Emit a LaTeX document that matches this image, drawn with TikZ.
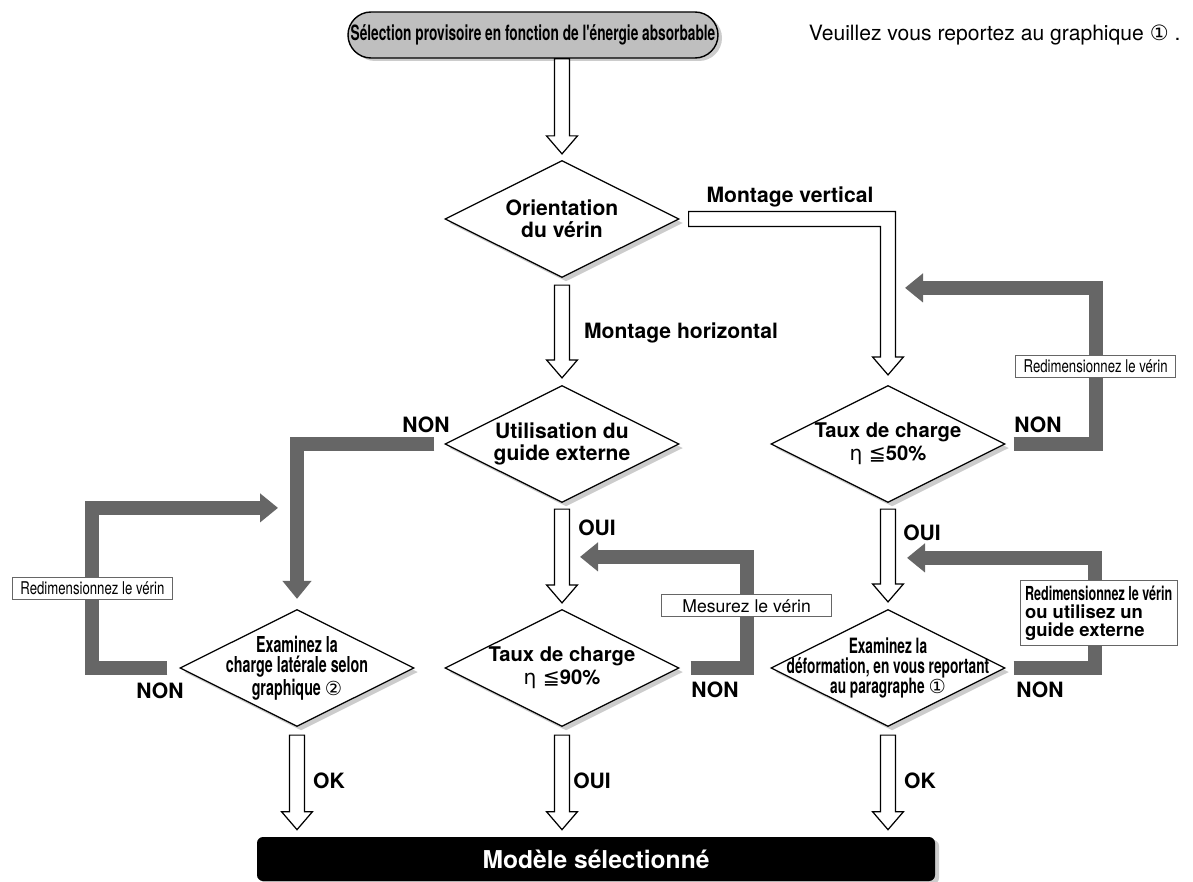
\documentclass[tikz,border=0pt]{standalone}
\usepackage{fontspec}
\setmainfont{TeX Gyre Heros}
\newfontfamily\condfont[FakeStretch=0.65]{TeX Gyre Heros}
\newfontfamily\semicondfont[FakeStretch=0.75]{TeX Gyre Heros}
\newfontfamily\symfont{DejaVu Sans}
\usepackage{tikz}
\usetikzlibrary{positioning, shapes.geometric, shadows, arrows.meta, calc}

\definecolor{loopgray}{HTML}{666666}
\definecolor{pillgray}{HTML}{BFBFBF}

\newcommand{\shaftw}{0.15cm}
\newcommand{\headw}{0.31cm}
\newcommand{\headl}{0.36cm}
% hollow arrow straight down, from (#1) to the tip (#2)
\newcommand{\hollowdown}[2]{%
  \draw[hollowarrow] let \p1=(#1), \p2=(#2) in
    (\x1-\shaftw,\y1) -- (\x1+\shaftw,\y1) -- (\x1+\shaftw,\y2+\headl)
    -- (\x1+\headw,\y2+\headl) -- (\x1,\y2) -- (\x1-\headw,\y2+\headl)
    -- (\x1-\shaftw,\y2+\headl) -- cycle;}
% hollow arrow going right from (#1), then down to the tip (#2)
\newcommand{\hollowturn}[2]{%
  \draw[hollowarrow] let \p1=(#1), \p2=(#2) in
    (\x1,\y1+\shaftw) -- (\x2+\shaftw,\y1+\shaftw) -- (\x2+\shaftw,\y2+\headl)
    -- (\x2+\headw,\y2+\headl) -- (\x2,\y2) -- (\x2-\headw,\y2+\headl)
    -- (\x2-\shaftw,\y2+\headl) -- (\x2-\shaftw,\y1-\shaftw) -- (\x1,\y1-\shaftw) -- cycle;}

\begin{document}
\begin{tikzpicture}[node distance=4.5cm,on grid,
    decision/.style={diamond, draw, line width=0.7pt, fill=white, aspect=2,
      minimum width=4.68cm, minimum height=2.34cm, inner sep=0pt,
      drop shadow={shadow xshift=0.08cm, shadow yshift=-0.08cm, fill=black!20, opacity=1}},
    dtext/.style={align=center, inner sep=0pt, font=\fontsize{12}{12.5}\selectfont\bfseries},
    dnarrow/.style={align=center, inner sep=0pt, font=\condfont\bfseries\fontsize{12.5}{11.5}\selectfont},
    pillbox/.style={rectangle, rounded corners=0.46cm, draw, line width=0.8pt, fill=pillgray,
      minimum width=7.4cm, minimum height=0.92cm, inner sep=1pt,
      font=\condfont\bfseries\fontsize{12}{14}\selectfont,
      drop shadow={shadow xshift=0.08cm, shadow yshift=-0.06cm, fill=black!20, opacity=1}},
    endbox/.style={rectangle, rounded corners=0.12cm, fill=black, text=white,
      minimum width=13.56cm, minimum height=0.88cm,
      font=\fontsize{14}{16}\selectfont\bfseries,
      drop shadow={shadow xshift=0.08cm, shadow yshift=-0.06cm, fill=black!20, opacity=1}},
    lbl/.style={font=\fontsize{12}{14}\selectfont\bfseries},
    note/.style={font=\fontsize{12}{14}\selectfont},
    redimbox/.style={draw, fill=white, line width=0.5pt, inner xsep=0.16cm, inner ysep=0pt,
      minimum height=0.44cm, font=\semicondfont\fontsize{10}{12}\selectfont},
    plainbox/.style={draw, fill=white, line width=0.5pt, inner ysep=0pt,
      minimum width=3.4cm, minimum height=0.44cm, font=\fontsize{10}{12}\selectfont},
    guidebox/.style={draw, fill=white, line width=0.5pt, inner sep=0.1cm, align=left,
      font=\fontsize{10.5}{10.2}\selectfont\bfseries},
    hollowarrow/.style={draw, line width=0.7pt, fill=white, line join=miter},
    feedback/.style={draw=loopgray, line width=0.28cm, line join=miter,
      -{Triangle[width=0.56cm,length=0.36cm]}}]

  \useasboundingbox (0,0) rectangle (23.86,-17.64);

  % decisions
  \node[decision] (orient)          at (11.24,-4.38) {};
  \node[decision] (util)   [below=of orient]         {};
  \node[decision] (t90)    [below=4.48cm of util]    {};
  \node[decision] (charge) [left=5.3cm of t90]       {};
  \node[decision] (t50)    [right=6.52cm of util]    {};
  \node[decision] (deform) [below=4.48cm of t50]     {};

  \node[dtext]   (orienttxt) at (orient) {Orientation\\du vérin};
  \node[dtext]   (utiltxt)   at (util)   {Utilisation du\\guide externe};
  \node[dtext, font=\fontsize{11.5}{13}\selectfont\bfseries] (t90txt) at (t90)
    {Taux de charge\\{\symfont\mdseries η ≦}90\%};
  \node[dtext, font=\fontsize{11.5}{13}\selectfont\bfseries] (t50txt) at (t50)
    {Taux de charge\\{\symfont\mdseries η ≦}50\%};
  \node[dnarrow] (chargetxt) at (charge)
    {Examinez la\\charge latérale selon\\graphique {\symfont\mdseries\fontsize{11}{11}\selectfont ②}};
  \node[dnarrow, font=\condfont\bfseries\fontsize{12}{11.5}\selectfont] (deformtxt) at (deform)
    {Examinez la\\déformation, en vous reportant\\au paragraphe {\symfont\mdseries\fontsize{11}{11}\selectfont ①}};

  % start and end
  \node[pillbox] (pill) [above left=3.68cm and 0.58cm of orient]
    {Sélection provisoire en fonction de l'énergie absorbable};
  \node[note, anchor=west] (note) at ([xshift=1.68cm]pill.east)
    {Veuillez vous reportez au graphique {\symfont ①} .};
  \node[endbox] (modele) [below right=3.82cm and 0.68cm of t90] {Modèle sélectionné};

  % labels
  \node[lbl] (mv)   [above right=0.44cm and 4.56cm of orient] {Montage vertical};
  \node[lbl] (mh)   [below right=2.28cm and 2.38cm of orient] {Montage horizontal};
  \node[lbl] (nonU) [above left=0.38cm and 2.72cm of util]    {NON};
  \node[lbl] (ouiU) [below right=1.68cm and 0.7cm of util]    {OUI};
  \node[lbl] (nonR) [above right=0.38cm and 3.0cm of t50]     {NON};
  \node[lbl] (ouiR) [below right=1.78cm and 0.68cm of t50]    {OUI};
  \node[lbl] (nonC) [below left=0.46cm and 2.74cm of charge]  {NON};
  \node[lbl] (nonM) [below right=0.44cm and 3.06cm of t90]    {NON};
  \node[lbl] (nonD) [below right=0.44cm and 3.04cm of deform] {NON};
  \node[lbl] (okC)  [below right=2.26cm and 0.64cm of charge] {OK};
  \node[lbl] (ouiM) [below right=2.26cm and 0.6cm of t90]     {OUI};
  \node[lbl] (okD)  [below right=2.26cm and 0.64cm of deform] {OK};

  % hollow arrows
  \hollowdown{pill.south -| orient.north}{[yshift=0.12cm]orient.north}
  \hollowdown{[yshift=-0.14cm]orient.south}{[yshift=0.14cm]util.north}
  \hollowdown{[yshift=-0.12cm]util.south}{[yshift=0.12cm]t90.north}
  \hollowdown{[yshift=-0.12cm]t50.south}{[yshift=0.14cm]deform.north}
  \hollowturn{[xshift=0.18cm]orient.east}{[yshift=0.2cm]t50.north}

  \coordinate (endC) at (charge.south |- modele.north);
  \coordinate (endM) at (t90.south |- modele.north);
  \coordinate (endD) at (deform.south |- modele.north);
  \hollowdown{[yshift=-0.16cm]charge.south}{[yshift=0.14cm]endC}
  \hollowdown{[yshift=-0.16cm]t90.south}{[yshift=0.14cm]endM}
  \hollowdown{[yshift=-0.16cm]deform.south}{[yshift=0.14cm]endD}

  % loops back
  \draw[feedback] ([xshift=-0.2cm]util.west) -| ([yshift=0.2cm]charge.north);

  \coordinate (tipL) at ([shift={(-0.38cm,2.02cm)}]charge.north);
  \draw[feedback] ([xshift=-0.24cm]charge.west) -- ++(-1.5cm,0)
    |- node[redimbox, pos=0.25] (redimL) {Redimensionnez le vérin} (tipL);

  \coordinate (tipM) at ([shift={(0.36cm,1.04cm)}]t90.north);
  \draw[feedback] ([xshift=0.22cm]t90.east) -- ++(1.12cm,0)
    |- node[plainbox, pos=0.28] (mesure) {Mesurez le vérin} (tipM);

  \coordinate (tipR1) at ([shift={(0.34cm,1.94cm)}]t50.north);
  \draw[feedback] ([xshift=0.16cm]t50.east) -- ++(1.64cm,0)
    |- node[redimbox, pos=0.25] (redimR) {Redimensionnez le vérin} (tipR1);

  \coordinate (tipR2) at ([shift={(0.38cm,1.02cm)}]deform.north);
  \draw[feedback] ([xshift=0.16cm]deform.east) -- ++(1.62cm,0)
    |- node[guidebox, pos=0.25, xshift=0.08cm] (guide)
    {{\condfont\fontsize{11}{10.2}\selectfont Redimensionnez le vérin}\\ou utilisez un\\guide externe} (tipR2);
\end{tikzpicture}
\end{document}
